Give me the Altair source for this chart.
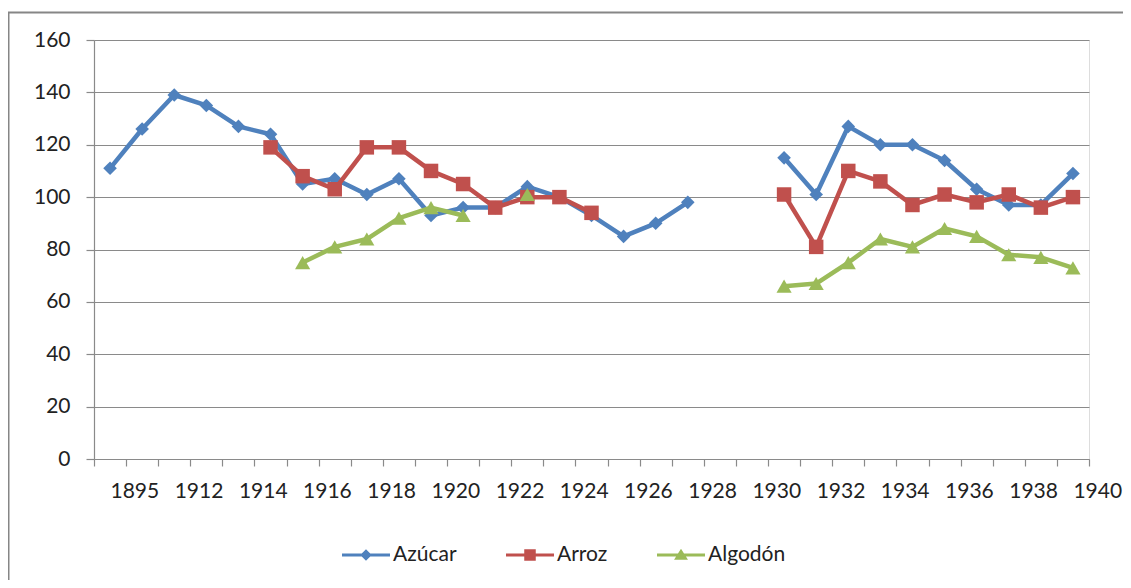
import json
import altair as alt
import pandas as pd

# ---------------- data ----------------
years = ["1895", "1911", "1912", "1913", "1914", "1915", "1916", "1917", "1918", "1919",
         "1920", "1921", "1922", "1923", "1924", "1925", "1926", "1927", "1928", "1929",
         "1930", "1931", "1932", "1933", "1934", "1935", "1936", "1937", "1938", "1939",
         "1940"]

series_names = ["Azúcar", "Arroz", "Algodón"]

azucar = [111, 126, 139, 135, 127, 124, 105, 107, 101, 107, 93, 96, 96, 104, 100, 93, 85, 90, 98,
          None, None,
          115, 101, 127, 120, 120, 114, 103, 97, 97, 109]
arroz = [None, None, None, None, None,
         119, 108, 103, 119, 119, 110, 105, 96, 100, 100, 94,
         None, None, None, None, None,
         101, 81, 110, 106, 97, 101, 98, 101, 96, 100]
algodon = [None, None, None, None, None, None,
           75, 81, 84, 92, 96, 93, None, 101,
           None, None, None, None, None, None, None,
           66, 67, 75, 84, 81, 88, 85, 78, 77, 73]

y_ticks = [0, 20, 40, 60, 80, 100, 120, 140, 160]

# ---------------- style ----------------
colors = ["#4F81BD", "#C0504D", "#9BBB59"]
shapes = ["diamond", "square", "triangle-up"]
sizes = [185, 210, 230]
legend_paths = [
    "M-1,-0.065L1,-0.065L1,0.065L-1,0.065Z M0,-0.24L0.24,0L0,0.24L-0.24,0Z",
    "M-1,-0.065L1,-0.065L1,0.065L-1,0.065Z M-0.24,-0.24L0.24,-0.24L0.24,0.24L-0.24,0.24Z",
    "M-1,-0.065L1,-0.065L1,0.065L-1,0.065Z M0,-0.26L0.29,0.2L-0.29,0.2Z",
]
legend_x = [248, 412, 563]
GRAY = "#8A8A8A"
TEXT = "#222222"
FONT = "Lato"
FS = 21
W, H = 995, 419


def to_frame(name, values):
    rows = []
    seg = 0
    for i, v in enumerate(values):
        if v is None:
            seg += 1
            continue
        rows.append({"idx": i, "year": years[i], "value": v, "seg": seg, "series": name})
    return pd.DataFrame(rows)


frames = [to_frame(n, v) for n, v in zip(series_names, [azucar, arroz, algodon])]

n = len(years)
boundaries = [k - 0.5 for k in range(n + 1)]
labels_at_boundaries = [years[k] if k % 2 == 0 else "" for k in range(n)] + [""]
label_expr = json.dumps(labels_at_boundaries, ensure_ascii=False) + "[round(datum.value + 0.5)]"

x_enc = alt.X(
    "idx:Q",
    scale=alt.Scale(domain=[-0.5, n - 0.5], nice=False, zero=False),
    axis=alt.Axis(
        values=boundaries, labelExpr=label_expr, title=None, grid=False,
        tickSize=7, tickColor=GRAY, tickWidth=1.2, domainColor=GRAY, domainWidth=1.2,
        labelAlign="left", labelOffset=16, labelPadding=14,
        labelFont=FONT, labelFontSize=FS, labelColor=TEXT,
        labelOverlap=False, labelFlush=False,
    ),
)
y_enc = alt.Y(
    "value:Q",
    scale=alt.Scale(domain=[0, 160], nice=False),
    axis=alt.Axis(
        values=y_ticks, title=None, grid=True, gridColor=GRAY, gridWidth=1.2,
        tickSize=8, tickColor=GRAY, tickWidth=1.2, domainColor=GRAY, domainWidth=1.2,
        labelPadding=16, labelFont=FONT, labelFontSize=FS, labelColor=TEXT,
    ),
)

frame = alt.Chart(pd.DataFrame({"f": [0]})).mark_rect(
    fill="transparent", stroke="#868686", strokeWidth=2
).encode(
    x=alt.value(-85.5), x2=alt.value(1060), y=alt.value(-27.5), y2=alt.value(560)
)

layers = [frame]
for i, df in enumerate(frames):
    base = alt.Chart(df)
    line = base.mark_line(
        color=colors[i], strokeWidth=4.5, strokeJoin="round", strokeCap="round"
    ).encode(x=x_enc, y=y_enc, detail="seg:N")
    pts = base.mark_point(
        filled=True, shape=shapes[i], size=sizes[i], opacity=1
    ).encode(
        x=x_enc, y=y_enc,
        color=alt.Color(
            "series:N",
            scale=alt.Scale(domain=[series_names[i]], range=[colors[i]]),
            legend=alt.Legend(
                title=None, orient="none", legendX=legend_x[i], legendY=491,
                direction="horizontal", padding=0,
                symbolType=legend_paths[i], symbolSize=2304, symbolStrokeWidth=0,
                symbolOpacity=1,
                labelFont=FONT, labelFontSize=FS, labelColor=TEXT, labelOffset=3,
            ),
        ),
    )
    layers += [line, pts]

chart = alt.layer(*layers).resolve_scale(color="independent").properties(
    width=W, height=H,
    autosize=alt.AutoSizeParams(type="none"),
    padding={"left": 86, "top": 32, "right": 34, "bottom": 121},
    background="white",
).configure_view(strokeWidth=0).configure(font=FONT)

chart.save("out.html", embed_options={"renderer": "svg", "actions": False})
